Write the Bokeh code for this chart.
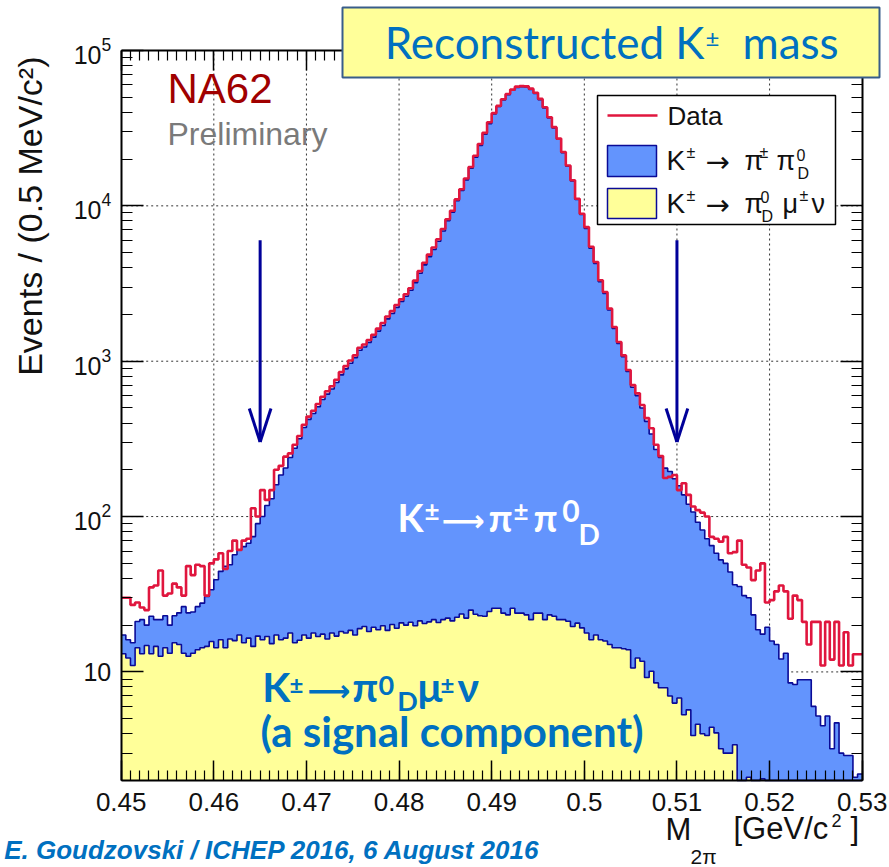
import numpy as np
from bokeh.plotting import figure
from bokeh.models import (FixedTicker, LogAxis, LinearAxis, Label, BoxAnnotation,
                          LogTickFormatter, Range1d, CustomJSTickFormatter)
from bokeh.embed import file_html
from bokeh.resources import INLINE

# ---------------- data ----------------
mass_min, mass_max, bin_width = 0.45, 0.53, 0.0005   # GeV/c^2, 0.5 MeV bins
count_min, count_max = 2, 1e5

data_counts = [
    30, 30, 27, 28, 26, 25, 35, 36, 45, 31,
    32, 37, 35, 31, 48, 42, 49, 48, 31, 50,
    53, 58, 46, 60, 70, 61, 70, 72, 113, 100,
    148, 128, 148, 200, 212, 243, 255, 290, 330, 390,
    440, 480, 530, 590, 640, 690, 760, 850, 930, 1010,
    1090, 1220, 1280, 1370, 1480, 1620, 1760, 1940, 2100, 2300,
    2500, 2700, 2950, 3300, 3800, 4300, 4850, 5400, 6100, 7100,
    8200, 9300, 11000, 12800, 15000, 17800, 21000, 25000, 29500, 34500,
    39500, 44000, 48500, 52500, 56000, 58500, 59000, 58800, 56800, 53500,
    48800, 43100, 37200, 32100, 27100, 22200, 18200, 14600, 11100, 8900,
    7300, 5450, 4350, 3320, 2790, 2180, 1660, 1330, 1090, 877,
    702, 621, 522, 430, 370, 290, 245, 177, 180, 185,
    148, 164, 138, 116, 110, 106, 100, 74, 72, 69,
    74, 58, 59, 70, 49, 47, 39, 45, 50, 28,
    29, 33, 36, 33, 22, 31, 29, 21, 15, 21,
    21, 11, 21, 12, 21, 11, 18, 11, 13, 13,
]

kpipi_counts = [
    4.2, 3.8, 4.4, 6.8, 8.6, 5.2, 9.7, 7.1, 9.1, 8.7,
    6.8, 7.6, 9.0, 13.1, 11.4, 11.1, 12.4, 13.4, 16.0, 18.1,
    24.9, 28.3, 33.5, 32.7, 40.9, 43.7, 48.6, 50.9, 59.7, 73.0,
    84, 101, 115, 143, 169, 189, 222, 260, 301, 357,
    406, 443, 492, 549, 598, 644, 713, 798, 875, 952,
    1035, 1158, 1215, 1304, 1409, 1544, 1678, 1853, 2007, 2201,
    2404, 2599, 2841, 3181, 3665, 4150, 4684, 5216, 5896, 6865,
    8014, 9093, 10757, 12520, 14678, 17419, 20556, 24477, 28887, 33785,
    39080, 43535, 47990, 51950, 55415, 57890, 58385, 58190, 56210, 52940,
    48290, 42645, 36805, 31755, 26805, 21955, 17995, 14435, 10970, 8790,
    7136, 5325, 4246, 3238, 2718, 2121, 1613, 1289, 1054, 845,
    669, 588, 488, 401, 330, 261.5, 232, 197, 188, 168.7,
    151.2, 132.7, 114.3, 103.1, 87.4, 78, 68.1, 60.6, 53.95, 49.4,
    47, 41, 33, 35.5, 31, 27.9, 23.3, 18.7, 15.45, 19.4,
    15.8, 15, 12.1, 13.2, 8.5, 8.3, 8.9, 8.9, 8.9, 6.0,
    5.2, 4.5, 5.2, 3.2, 4.7, 3.0, 2.9, 2.9, 2.1, 2.2,
]

kmu3_counts = [
    13.1, 12.3, 11.0, 14.3, 13.1, 14.8, 13.1, 14.6, 12.6, 14.3,
    13.2, 15.4, 15.0, 13.2, 12.6, 13.2, 13.9, 14.3, 14.6, 15.7,
    14.3, 16.1, 14.3, 16.3, 15.9, 17.3, 15.4, 16.5, 14.6, 17.0,
    16.1, 16.9, 15.2, 17.3, 16.1, 16.5, 17.8, 15.4, 16.0, 17.3,
    16.5, 17.8, 16.9, 17.5, 16.3, 17.8, 17.0, 18.2, 17.8, 18.5,
    17.3, 19.0, 19.6, 18.2, 19.4, 18.7, 19.8, 18.5, 20.2, 19.1,
    20.7, 20.0, 20.9, 19.8, 21.3, 20.5, 21.0, 21.7, 20.8, 21.7,
    22.2, 21.3, 22.5, 23.6, 22.2, 25.0, 23.5, 23.0, 22.8, 24.5,
    25.7, 25.7, 23.9, 23.3, 25.7, 23.9, 23.9, 23.3, 21.7, 23.9,
    23.9, 21.7, 23.3, 22.8, 21.7, 21.7, 21.2, 19.6, 20.6, 19.2,
    17.8, 16.1, 17.3, 16.1, 15.8, 15.0, 14.3, 14.3, 14.1, 13.9,
    10.6, 12.3, 11.7, 9.2, 10.1, 8.5, 7.9, 7.9, 7.0, 6.3,
    6.8, 5.3, 5.7, 3.9, 4.6, 4.0, 3.9, 4.4, 4.05, 3.2,
    3.0, 3.0, 3.4, 0, 0, 2.1, 0, 0, 2.05, 0,
    0, 0, 0, 0, 0, 0, 0, 0, 0, 0,
    0, 0, 0, 0, 0, 0, 0, 0, 0, 0,
]

x_ticks = [0.45, 0.46, 0.47, 0.48, 0.49, 0.50, 0.51, 0.52, 0.53]
y_ticks = [10, 100, 1000, 10000, 100000]
signal_cuts = [0.465, 0.510]       # arrows

# ---------------- style ----------------
BLUE = "#6394FD"
YELLOW = "#FFFF99"
NAVY = "#0A0A96"
RED = "#E0163E"
ARROW = "#000099"
TXT_BLUE = "#0070C0"
HELV = "Liberation Sans"
CAL = "Lato"
DJV = "DejaVu Sans"
# measured vertical shift of the rendered glyph baseline (fraction of font size)
BASE_SHIFT = {HELV: 0.35, CAL: 0.42, DJV: 0.35}

# canvas & data-frame geometry (page pixels)
W, H = 889, 867
PX_L, PX_R, PY_T, PY_B = 120.7, 861.7, 50.0, 780.0
sx = (PX_R - PX_L) / (mass_max - mass_min)
dec = (PY_B - PY_T) / (np.log10(count_max) - np.log10(count_min))
x_start = mass_min - PX_L / sx
x_end = mass_max + (W - PX_R) / sx
y_end = 10 ** (np.log10(count_max) + PY_T / dec)
y_start = 10 ** (np.log10(count_min) - (H - PY_B) / dec)

n = len(data_counts)
edges = mass_min + bin_width * np.arange(n + 1)
kmu3 = np.array(kmu3_counts, float)
stack_total = np.array(kpipi_counts, float) + kmu3
data = np.array(data_counts, float)
FLOOR = count_min


def stepy(v):
    v = np.maximum(np.asarray(v, float), FLOOR)
    return np.append(v, v[-1])


p = figure(width=W, height=H, x_range=Range1d(x_start, x_end),
           y_range=Range1d(y_start, y_end), y_axis_type="log",
           x_axis_location=None, y_axis_location=None,
           output_backend="svg", toolbar_location=None, min_border=0)
p.background_fill_color = "white"
p.border_fill_color = "white"
p.outline_line_color = None
p.title.visible = False
for g in p.grid:
    g.visible = False

# dotted grid at the major ticks
gx = x_ticks[1:-1]
p.segment(x0=gx, y0=[count_min] * len(gx), x1=gx, y1=[count_max] * len(gx),
          line_color="#333333", line_dash="2 3", line_width=1)
gy = y_ticks[:-1]
p.segment(x0=[mass_min] * len(gy), y0=gy, x1=[mass_max] * len(gy), y1=gy,
          line_color="#333333", line_dash="2 3", line_width=1)

# histograms (stack: total then K->pi0 mu nu on top)
base = np.full(n + 1, FLOOR)
p.varea_step(x=edges, y1=base, y2=stepy(stack_total), step_mode="after", fill_color=BLUE)
p.varea_step(x=edges, y1=base, y2=stepy(kmu3), step_mode="after", fill_color=YELLOW)
p.step(x=edges, y=stepy(stack_total), mode="after", line_color=NAVY, line_width=1.6)
p.step(x=edges, y=stepy(kmu3), mode="after", line_color=NAVY, line_width=1.6)
p.step(x=edges, y=stepy(data), mode="after", line_color=RED, line_width=2.6)

# signal-region arrows
arrow_top, arrow_tip, head_base, head_half = 6000, 302, 496, 0.00117
for c in signal_cuts:
    p.segment(x0=[c, c - head_half, c + head_half], y0=[arrow_top, head_base, head_base],
              x1=[c, c, c], y1=[arrow_tip, arrow_tip, arrow_tip],
              line_color=ARROW, line_width=3)

# axes (library axes pinned to the data frame edges)
minor_x = [round(mass_min + 0.001 * k, 3) for k in range(81)]
minor_y = [m * 10 ** e for e in range(0, 5) for m in range(2, 10)]
xt = FixedTicker(ticks=x_ticks, minor_ticks=minor_x)
yt = FixedTicker(ticks=y_ticks, minor_ticks=minor_y)
blank = "return '';"

xa = LinearAxis(ticker=xt, fixed_location=count_min, bounds=(mass_min, mass_max),
                formatter=CustomJSTickFormatter(code="return (Math.round(tick*100)/100).toString();"))
ta = LinearAxis(ticker=xt, fixed_location=count_max, bounds=(mass_min, mass_max),
                formatter=CustomJSTickFormatter(code=blank))
ya = LogAxis(ticker=yt, fixed_location=mass_min, bounds=(count_min, count_max),
             formatter=LogTickFormatter(), major_label_overrides={10: "10"})
ra = LogAxis(ticker=yt, fixed_location=mass_max, bounds=(count_min, count_max),
             formatter=CustomJSTickFormatter(code=blank))
p.add_layout(xa, "below")
p.add_layout(ta, "above")
p.add_layout(ya, "left")
p.add_layout(ra, "right")

for ax, maj, mnr in ((xa, 20, 10), (ta, 20, 10), (ya, 22, 11), (ra, 22, 11)):
    ax.major_tick_in = maj
    ax.major_tick_out = 0
    ax.minor_tick_in = mnr
    ax.minor_tick_out = 0
    ax.major_tick_line_color = "black"
    ax.minor_tick_line_color = "black"
    ax.major_tick_line_width = 1.5
    ax.minor_tick_line_width = 1.2
    ax.axis_line_color = "black"
    ax.axis_line_width = 2
    ax.major_label_text_font = HELV
    ax.major_label_text_color = "#111111"

xa.major_label_text_font_size = "26px"
xa.major_label_standoff = 12
ya.major_label_text_font_size = "25px"
ya.major_label_standoff = 10
for ax in (ta, ra):
    ax.major_label_text_font_size = "1px"
    ax.major_label_standoff = 0


# ---------------- annotations (positions in page pixels, Y = glyph baseline) ----------------
def put(text, X, Y, size, color="#111111", font=HELV, style="normal",
        align="left", baseline="alphabetic", angle=0.0):
    if baseline == "alphabetic" and angle == 0.0:
        Y = Y - BASE_SHIFT.get(font, 0.38) * size
    p.add_layout(Label(x=X, y=H - Y, x_units="screen", y_units="screen",
                       text=text, text_font=font, text_font_size=f"{size}px",
                       text_font_style=style, text_color=color,
                       text_align=align, text_baseline=baseline, angle=angle))


def box(X1, Y1, X2, Y2, fill, line=None, lw=1.5):
    p.add_layout(BoxAnnotation(left=X1, right=X2, top=H - Y1, bottom=H - Y2,
                               left_units="screen", right_units="screen",
                               top_units="screen", bottom_units="screen",
                               fill_color=fill, fill_alpha=1.0,
                               line_color=line, line_alpha=1.0, line_width=lw))


# axis titles
put("Events / (0.5 MeV/c²)", 29, 56, 34, align="right", baseline="middle", angle=np.pi / 2)
put("M", 665, 840, 31)
put("2π", 690, 863, 21)
put("[GeV/c", 733, 839, 31)
put("2", 831, 826, 18)
put("]", 850, 839, 31)

# footnote
put("E. Goudzovski / ICHEP 2016, 6 August  2016", 547, 859, 26, color=TXT_BLUE,
    style="bold italic", align="right")

# NA62 preliminary
put("NA62", 167, 103, 42, color="#A00000")
put("Preliminary", 167, 145, 32, color="#7A7A7A")

# title box
box(342, 7, 879, 77, YELLOW, line="#385D8A", lw=2)
put("Reconstructed K", 704, 59.5, 44, color=TXT_BLUE, font=CAL, align="right")
put("±", 705, 47, 24, color=TXT_BLUE, font=CAL)
put("mass", 742, 59.5, 44, color=TXT_BLUE, font=CAL)

# legend
box(597, 95, 835, 224, "white", line="black", lw=1.5)
box(607, 113.7, 657, 116.3, RED)
box(607, 145, 656, 176, BLUE, line=NAVY, lw=1.5)
box(607, 188, 656, 218, YELLOW, line=NAVY, lw=1.5)
put("Data", 667, 125, 26)
# K± -> π± π0_D
put("K", 666, 170, 28)
put("±", 686, 158, 16)
put("→", 705, 171.5, 29, font=DJV)
put("π", 744, 170, 27)
put("±", 759, 158, 16)
put("π", 776, 170, 27)
put("0", 796, 160, 16)
put("D", 797, 179, 16)
# K± -> π0_D μ± ν
put("K", 666, 213, 28)
put("±", 686, 201, 16)
put("→", 705, 214.5, 29, font=DJV)
put("π", 744, 213, 27)
put("0", 760, 202, 16)
put("D", 761, 222, 16)
put("μ", 782, 213, 27)
put("±", 799, 201, 16)
put("ν", 811, 213, 27)

# white label on the K->pi pi component
Wt = "white"
put("K", 397, 532.7, 38, color=Wt, font=CAL, style="bold")
put("±", 424, 521.7, 26, color=Wt, font=CAL, style="bold")
put("⟶", 441, 530, 30, color=Wt, font=DJV, style="bold")
put("π", 488, 532.7, 38, color=Wt, font=CAL, style="bold")
put("±", 513, 521.7, 26, color=Wt, font=CAL, style="bold")
put("π", 533, 532.7, 38, color=Wt, font=CAL, style="bold")
put("0", 561.7, 523.3, 30, color=Wt, font=CAL, style="bold")
put("D", 578, 545, 28, color=Wt, font=CAL, style="bold")

# blue label on the K->pi0 mu nu component
B = TXT_BLUE
put("K", 261.7, 703.3, 41, color=B, font=CAL, style="bold")
put("±", 289, 694, 24, color=B, font=CAL, style="bold")
put("⟶", 306.7, 700, 30, color=B, font=DJV, style="bold")
put("π", 351.7, 703.3, 41, color=B, font=CAL, style="bold")
put("0", 378, 696.7, 27, color=B, font=CAL, style="bold")
put("D", 396.7, 711.7, 27, color=B, font=CAL, style="bold")
put("μ", 417, 703.3, 41, color=B, font=CAL, style="bold")
put("±", 440, 694, 24, color=B, font=CAL, style="bold")
put("ν", 457, 703.3, 41, color=B, font=CAL, style="bold")
put("(a signal component)", 260, 748.3, 42, color=B, font=CAL, style="bold")

open("out.html", "w").write(file_html(p, INLINE))
